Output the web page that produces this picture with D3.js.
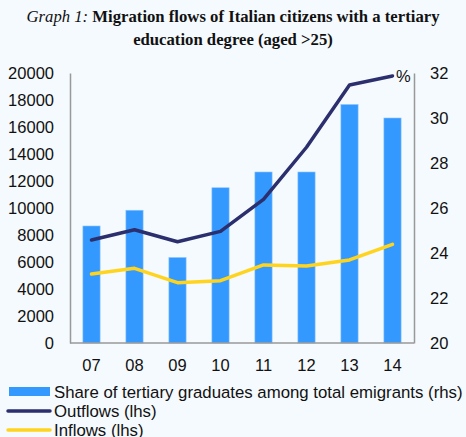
<!DOCTYPE html>
<html><head><meta charset="utf-8">
<script src="https://cdn.jsdelivr.net/npm/d3@7"></script>
<style>
html,body{margin:0;padding:0;background:#F5FAFE;}
svg{display:block;}
</style></head>
<body><div id="chart"></div>
<script>
const categories = ["07","08","09","10","11","12","13","14"];
const shareRhs = [25.2, 25.9, 23.8, 26.9, 27.6, 27.6, 30.6, 30.0];
const outflows = [7630, 8390, 7500, 8270, 10640, 14500, 19110, 19780];
const inflows = [5110, 5530, 4470, 4620, 5780, 5700, 6150, 7310];
const leftTicks = [0,2000,4000,6000,8000,10000,12000,14000,16000,18000,20000];
const rightTicks = [20,22,24,26,28,30,32];
const legendLabels = ["Share of tertiary graduates among total emigrants (rhs)","Outflows (lhs)","Inflows (lhs)"];

const W = 466, H = 437;
const m = {left:70, right:414, top:73, bottom:343};
const svg = d3.select("#chart").append("svg").attr("width",W).attr("height",H)
  .style("background","#F5FAFE");

const x = d3.scaleBand().domain(categories).range([m.left, m.right]).paddingInner(0.6).paddingOuter(0.3);
const yL = d3.scaleLinear().domain([0,20000]).range([m.bottom, m.top]);
const yR = d3.scaleLinear().domain([20,32]).range([m.bottom, m.top]);

const colBar = "#3399FF", colOut = "#2B2F6E", colIn = "#FFD41F";
const font = "'Liberation Sans', Arial, sans-serif";
const fs = "16.5px";

// title
const title = svg.append("text").attr("x", 233).attr("y", 22).attr("text-anchor","middle")
  .style("font-family","'Liberation Serif','Times New Roman',serif").style("font-size","16.7px").attr("fill","#111");
title.append("tspan").style("font-style","italic").text("Graph 1: ");
title.append("tspan").style("font-weight","bold").text("Migration flows of Italian citizens with a tertiary");
svg.append("text").attr("x", 233).attr("y", 45).attr("text-anchor","middle")
  .style("font-family","'Liberation Serif','Times New Roman',serif").style("font-size","16.7px")
  .style("font-weight","bold").attr("fill","#111").text("education degree (aged >25)");

// bars
svg.append("g").selectAll("rect").data(categories).join("rect")
  .attr("x", d => x(d)).attr("width", x.bandwidth())
  .attr("y", (d,i) => yR(shareRhs[i])).attr("height", (d,i) => m.bottom - yR(shareRhs[i]))
  .attr("fill", colBar).attr("stroke","#8CC4FF").attr("stroke-width",0.6);

// axes
const axisCol = "#999";
const gL = svg.append("g").attr("transform",`translate(${m.left},0)`)
  .call(d3.axisLeft(yL).tickValues(leftTicks).tickSize(0).tickPadding(16).tickFormat(d3.format("d")));
const gR = svg.append("g").attr("transform",`translate(${m.right},0)`)
  .call(d3.axisRight(yR).tickValues(rightTicks).tickSize(0).tickPadding(16).tickFormat(d3.format("d")));
const gB = svg.append("g").attr("transform",`translate(0,${m.bottom})`)
  .call(d3.axisBottom(x).tickSize(0).tickPadding(16));
[gL,gR,gB].forEach(g => {
  g.select(".domain").attr("stroke", axisCol).attr("stroke-width",1.5);
  g.selectAll("text").style("font-family",font).style("font-size",fs).attr("fill","#111");
});
gB.select(".domain").attr("d", `M${m.left},0H${m.right}`);

// lines
const lineFn = yScale => d3.line().x((d,i) => x(categories[i]) + x.bandwidth()/2).y(d => yScale(d));
svg.append("path").datum(inflows).attr("d", lineFn(yL)).attr("fill","none")
  .attr("stroke", colIn).attr("stroke-width",3.5).attr("stroke-linecap","round").attr("stroke-linejoin","round");
svg.append("path").datum(outflows).attr("d", lineFn(yL)).attr("fill","none")
  .attr("stroke", colOut).attr("stroke-width",3.5).attr("stroke-linecap","round").attr("stroke-linejoin","round");

svg.append("text").attr("x", 396).attr("y", 82).style("font-family",font).style("font-size",fs)
  .attr("fill","#111").text("%");

// legend
const lg = svg.append("g");
const ly = [392, 411, 430];
lg.append("rect").attr("x",9).attr("y",ly[0]-5).attr("width",41).attr("height",9).attr("fill",colBar);
lg.append("line").attr("x1",8).attr("x2",50).attr("y1",ly[1]).attr("y2",ly[1]).attr("stroke",colOut).attr("stroke-width",3.5).attr("stroke-linecap","round");
lg.append("line").attr("x1",8).attr("x2",50).attr("y1",ly[2]).attr("y2",ly[2]).attr("stroke",colIn).attr("stroke-width",3.5).attr("stroke-linecap","round");
lg.selectAll("text").data(legendLabels).join("text")
  .attr("x", 54).attr("y", (d,i) => ly[i] + 6)
  .style("font-family",font).style("font-size","16.8px").attr("fill","#111").text(d => d);
</script></body></html>
